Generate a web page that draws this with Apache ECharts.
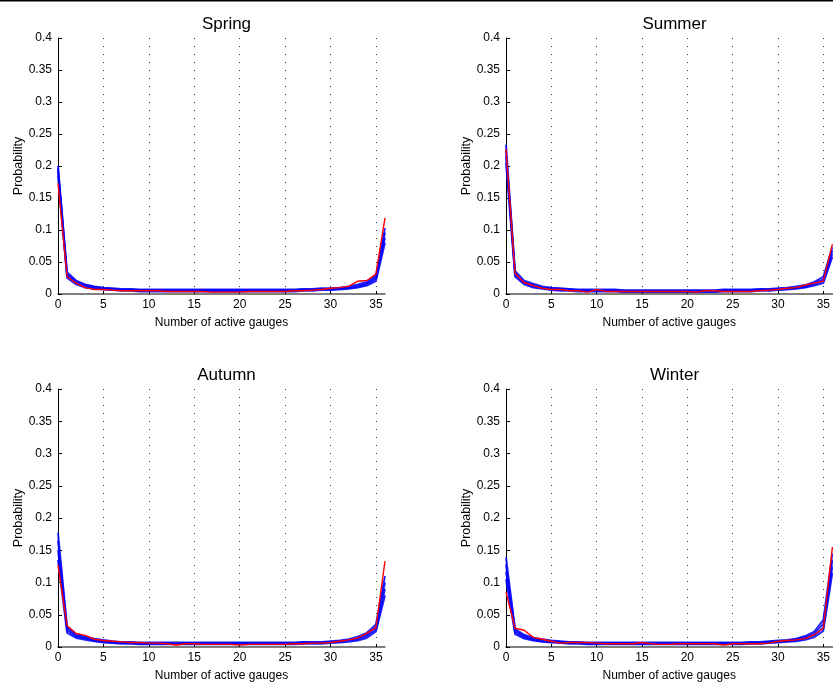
<!DOCTYPE html>
<html>
<head>
<meta charset="utf-8">
<script src="https://cdn.jsdelivr.net/npm/echarts@6/dist/echarts.min.js"></script>
<style>html,body{margin:0;padding:0;background:#fff}#c{width:833px;height:683px}</style>
</head>
<body>
<div id="c"></div>
<script>
// x categories: number of active gauges
const gauges = Array.from({length: 37}, (_, i) => i);
const xTicks = [0, 5, 10, 15, 20, 25, 30, 35];
const yTicks = [0, 0.05, 0.1, 0.15, 0.2, 0.25, 0.3, 0.35, 0.4];
const seasons = ["Spring", "Summer", "Autumn", "Winter"];

// Spring
const springRed = [0.173,0.027,0.017,0.010,0.007,0.007,0.006,0.005,0.005,0.005,0.005,0.005,0.004,0.004,0.004,0.004,0.004,0.003,0.003,0.003,0.003,0.004,0.004,0.004,0.004,0.004,0.005,0.005,0.006,0.007,0.009,0.010,0.012,0.020,0.021,0.031,0.119];
const springBlue1 = [0.185,0.025,0.015,0.010,0.008,0.007,0.006,0.005,0.005,0.004,0.004,0.004,0.004,0.004,0.004,0.004,0.004,0.004,0.004,0.004,0.004,0.004,0.004,0.004,0.004,0.004,0.004,0.005,0.005,0.006,0.006,0.007,0.008,0.010,0.013,0.020,0.080];
const springBlue2 = [0.192,0.028,0.017,0.012,0.009,0.008,0.007,0.006,0.006,0.005,0.005,0.005,0.005,0.005,0.005,0.005,0.005,0.005,0.005,0.005,0.005,0.005,0.005,0.005,0.005,0.005,0.005,0.006,0.006,0.007,0.007,0.008,0.009,0.011,0.015,0.023,0.088];
const springBlue3 = [0.197,0.031,0.019,0.014,0.011,0.009,0.008,0.007,0.007,0.006,0.006,0.006,0.006,0.006,0.006,0.006,0.006,0.006,0.006,0.006,0.006,0.006,0.006,0.006,0.006,0.006,0.006,0.007,0.007,0.008,0.008,0.009,0.010,0.013,0.017,0.026,0.096];
const springBlue4 = [0.200,0.034,0.021,0.015,0.012,0.010,0.009,0.008,0.008,0.007,0.007,0.007,0.007,0.007,0.007,0.007,0.007,0.007,0.007,0.007,0.007,0.007,0.007,0.007,0.007,0.007,0.007,0.008,0.008,0.009,0.009,0.010,0.012,0.015,0.019,0.029,0.103];

// Summer
const summerRed = [0.226,0.032,0.018,0.013,0.009,0.007,0.007,0.005,0.005,0.003,0.007,0.004,0.004,0.004,0.004,0.004,0.004,0.004,0.004,0.004,0.004,0.003,0.005,0.005,0.004,0.004,0.004,0.004,0.005,0.006,0.007,0.009,0.010,0.014,0.017,0.020,0.078];
const summerBlue1 = [0.205,0.027,0.015,0.010,0.008,0.006,0.005,0.005,0.004,0.004,0.004,0.004,0.004,0.003,0.003,0.003,0.003,0.003,0.003,0.003,0.003,0.003,0.003,0.003,0.004,0.004,0.004,0.004,0.005,0.005,0.006,0.007,0.008,0.010,0.013,0.017,0.058];
const summerBlue2 = [0.215,0.030,0.017,0.012,0.009,0.007,0.006,0.006,0.005,0.005,0.005,0.005,0.005,0.004,0.004,0.004,0.004,0.004,0.004,0.004,0.004,0.004,0.004,0.004,0.005,0.005,0.005,0.005,0.006,0.006,0.007,0.008,0.009,0.011,0.015,0.020,0.063];
const summerBlue3 = [0.224,0.033,0.019,0.014,0.010,0.009,0.008,0.007,0.006,0.006,0.006,0.006,0.006,0.005,0.005,0.005,0.005,0.005,0.005,0.005,0.005,0.005,0.005,0.005,0.006,0.006,0.006,0.006,0.007,0.007,0.008,0.009,0.010,0.012,0.017,0.023,0.068];
const summerBlue4 = [0.233,0.036,0.021,0.016,0.012,0.010,0.009,0.008,0.007,0.007,0.007,0.007,0.007,0.006,0.006,0.006,0.006,0.006,0.006,0.006,0.006,0.006,0.006,0.006,0.007,0.007,0.007,0.007,0.008,0.008,0.009,0.010,0.012,0.014,0.019,0.027,0.073];

// Autumn
const autumnRed = [0.127,0.033,0.021,0.018,0.012,0.010,0.009,0.008,0.007,0.007,0.006,0.006,0.005,0.003,0.005,0.005,0.004,0.004,0.004,0.004,0.003,0.004,0.004,0.004,0.004,0.004,0.005,0.005,0.006,0.006,0.007,0.009,0.011,0.014,0.021,0.030,0.133];
const autumnBlue1 = [0.135,0.022,0.014,0.011,0.009,0.007,0.006,0.005,0.005,0.004,0.004,0.004,0.004,0.004,0.004,0.004,0.004,0.004,0.004,0.004,0.004,0.004,0.004,0.004,0.004,0.004,0.004,0.005,0.005,0.005,0.006,0.007,0.008,0.010,0.014,0.024,0.080];
const autumnBlue2 = [0.150,0.026,0.016,0.013,0.010,0.008,0.007,0.006,0.006,0.005,0.005,0.005,0.005,0.005,0.005,0.005,0.005,0.005,0.005,0.005,0.005,0.005,0.005,0.005,0.005,0.005,0.005,0.006,0.006,0.006,0.007,0.008,0.010,0.012,0.017,0.027,0.090];
const autumnBlue3 = [0.165,0.029,0.018,0.014,0.011,0.009,0.008,0.007,0.007,0.006,0.006,0.006,0.006,0.006,0.006,0.006,0.006,0.006,0.006,0.006,0.006,0.006,0.006,0.006,0.006,0.006,0.006,0.007,0.007,0.007,0.008,0.009,0.011,0.014,0.019,0.031,0.100];
const autumnBlue4 = [0.177,0.032,0.020,0.016,0.013,0.011,0.009,0.008,0.008,0.007,0.007,0.007,0.007,0.007,0.007,0.007,0.007,0.007,0.007,0.007,0.007,0.007,0.007,0.007,0.007,0.007,0.007,0.008,0.008,0.008,0.009,0.010,0.012,0.016,0.022,0.035,0.110];

// Winter
const winterRed = [0.085,0.029,0.026,0.015,0.012,0.009,0.006,0.007,0.007,0.007,0.006,0.005,0.005,0.005,0.005,0.007,0.005,0.004,0.004,0.005,0.005,0.005,0.005,0.005,0.003,0.005,0.005,0.005,0.005,0.006,0.009,0.010,0.011,0.013,0.019,0.029,0.155];
const winterBlue1 = [0.105,0.020,0.013,0.010,0.008,0.007,0.006,0.005,0.005,0.004,0.004,0.004,0.004,0.004,0.004,0.004,0.004,0.004,0.004,0.004,0.004,0.004,0.004,0.004,0.004,0.004,0.004,0.005,0.005,0.006,0.007,0.008,0.009,0.011,0.015,0.025,0.115];
const winterBlue2 = [0.117,0.023,0.015,0.011,0.009,0.008,0.007,0.006,0.006,0.005,0.005,0.005,0.005,0.005,0.005,0.005,0.005,0.005,0.005,0.005,0.005,0.005,0.005,0.005,0.005,0.005,0.005,0.006,0.006,0.007,0.008,0.009,0.010,0.013,0.018,0.030,0.125];
const winterBlue3 = [0.128,0.026,0.017,0.013,0.011,0.009,0.008,0.007,0.007,0.006,0.006,0.006,0.006,0.006,0.006,0.006,0.006,0.006,0.006,0.006,0.006,0.006,0.006,0.006,0.006,0.006,0.006,0.007,0.007,0.008,0.009,0.010,0.012,0.015,0.021,0.036,0.135];
const winterBlue4 = [0.139,0.028,0.019,0.014,0.012,0.010,0.009,0.008,0.008,0.007,0.007,0.007,0.007,0.007,0.007,0.007,0.007,0.007,0.007,0.007,0.007,0.007,0.007,0.007,0.007,0.007,0.007,0.008,0.008,0.009,0.010,0.011,0.013,0.017,0.024,0.042,0.145];

const panelBlue = [
  [springBlue1, springBlue2, springBlue3, springBlue4],
  [summerBlue1, summerBlue2, summerBlue3, summerBlue4],
  [autumnBlue1, autumnBlue2, autumnBlue3, autumnBlue4],
  [winterBlue1, winterBlue2, winterBlue3, winterBlue4]
];
const panelRed = [springRed, summerRed, autumnRed, winterRed];

const FONT = "Liberation Sans, Arial, Helvetica, sans-serif";
const gridPos = [
  {left: 58, top: 38, width: 327, height: 256},
  {left: 506, top: 38, width: 327, height: 256},
  {left: 58, top: 389, width: 327, height: 259},
  {left: 506, top: 389, width: 327, height: 259}
];

const grids = [], xAxes = [], yAxes = [], titles = [], series = [];
gridPos.forEach((g, i) => {
  grids.push(Object.assign({containLabel: false}, g));
  titles.push({
    text: seasons[i],
    left: g.left + g.width / 2,
    top: g.top - 27,
    textAlign: 'center',
    textStyle: {fontFamily: FONT, fontSize: 17, fontWeight: 'normal', color: '#000'}
  });
  xAxes.push({
    type: 'value', gridIndex: i, min: 0, max: 36, interval: 5,
    name: 'Number of active gauges', nameLocation: 'middle', nameGap: 23,
    nameTextStyle: {fontFamily: FONT, fontSize: 12, color: '#000'},
    axisLine: {show: true, lineStyle: {color: '#555', width: 1.5}},
    axisTick: {show: true, inside: true, length: 3, lineStyle: {color: '#000'}},
    axisLabel: {show: true, fontFamily: FONT, fontSize: 12, color: '#000', margin: 5, showMaxLabel: false,
      formatter: v => xTicks.indexOf(v) >= 0 ? String(v) : ''},
    splitLine: {show: true, showMinLine: false, showMaxLine: false,
      lineStyle: {color: '#333', width: 1, type: [1, 7]}}
  });
  yAxes.push({
    type: 'value', gridIndex: i, min: 0, max: 0.4, interval: 0.05,
    name: 'Probability', nameLocation: 'middle', nameGap: 33, nameRotate: 90,
    nameTextStyle: {fontFamily: FONT, fontSize: 12.5, color: '#000'},
    axisLine: {show: true, lineStyle: {color: '#000', width: 1}},
    axisTick: {show: true, inside: true, length: 4, lineStyle: {color: '#000'}},
    axisLabel: {fontFamily: FONT, fontSize: 12, color: '#000', margin: 6,
      formatter: v => { const t = yTicks.find(t => Math.abs(t - v) < 1e-9); return t === undefined ? '' : String(t); }},
    splitLine: {show: false}
  });
  panelBlue[i].forEach(arr => {
    series.push({
      type: 'line', xAxisIndex: i, yAxisIndex: i, symbol: 'none', silent: true,
      data: gauges.map((x, k) => [x, arr[k]]),
      lineStyle: {color: '#0000ff', width: 1.9, opacity: 0.85}, z: 2
    });
  });
  series.push({
    type: 'line', xAxisIndex: i, yAxisIndex: i, symbol: 'none', silent: true,
    data: gauges.map((x, k) => [x, panelRed[i][k]]),
    lineStyle: {color: '#ff0000', width: 1.4}, z: 3
  });
});

const chart = echarts.init(document.getElementById('c'), null, {renderer: 'canvas'});
chart.setOption({
  animation: false,
  backgroundColor: '#fff',
  title: titles,
  grid: grids,
  xAxis: xAxes,
  yAxis: yAxes,
  series: series,
  graphic: [{type: 'rect', left: 0, top: 0, shape: {width: 833, height: 1.5}, style: {fill: '#000'}, silent: true}]
});
</script>
</body>
</html>
